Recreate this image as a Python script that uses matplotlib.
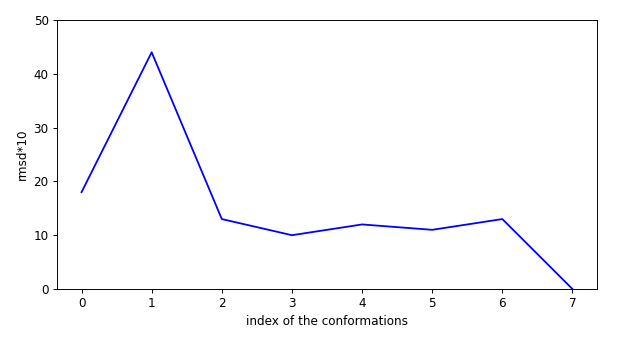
import matplotlib
matplotlib.use("Agg")
import matplotlib.pyplot as plt

indices = [0, 1, 2, 3, 4, 5, 6, 7]
rmsd_x10 = [18, 44, 13, 10, 12, 11, 13, 0]

DPI = 86.1
fig = plt.figure(figsize=(620/DPI, 348/DPI), dpi=DPI)
ax = fig.add_axes([57/620, 1-289/348, 540/620, 269/348])
ax.plot(indices, rmsd_x10, color="blue")
ax.set_ylim(0, 50)
ax.set_yticks([0, 10, 20, 30, 40, 50])
ax.set_xlabel("index of the conformations")
ax.set_ylabel("rmsd*10")
fig.savefig("out.png", dpi=DPI)
